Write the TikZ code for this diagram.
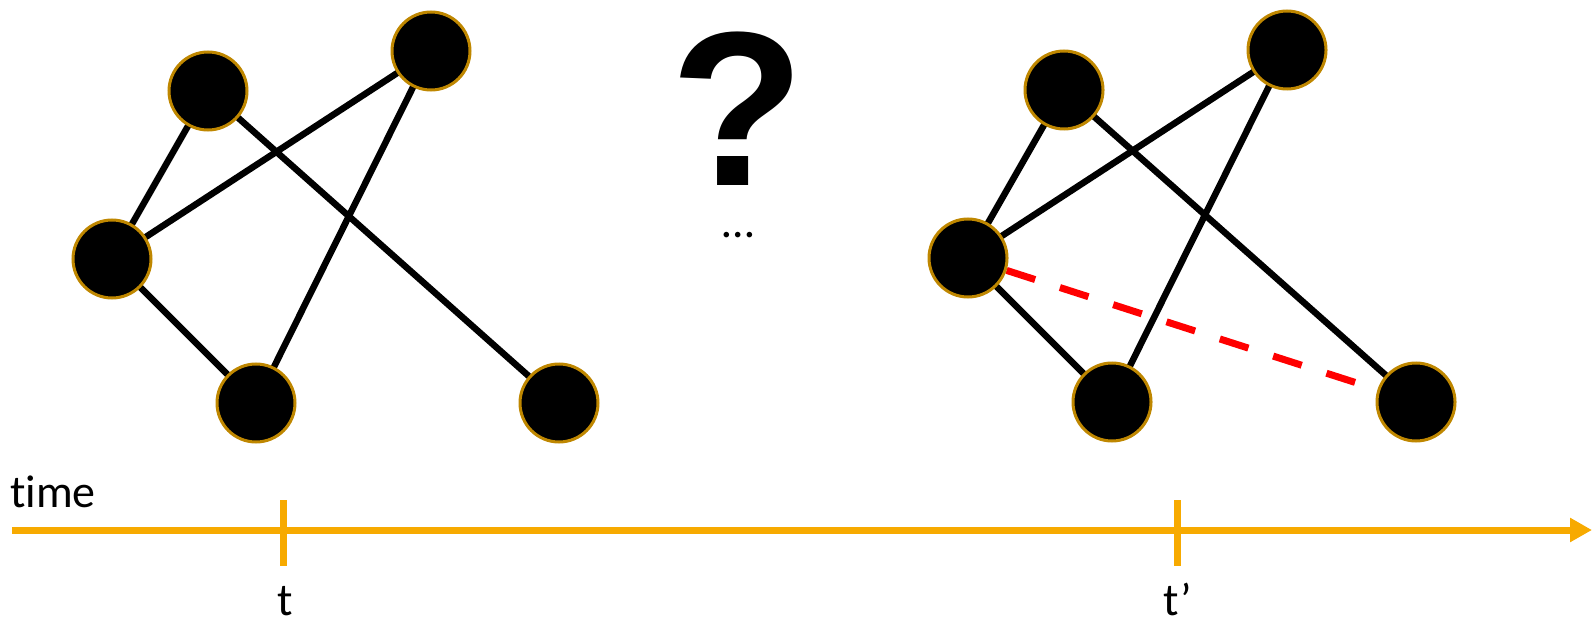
\documentclass[tikz,border=0pt]{standalone}
\usepackage{fontspec}
\setmainfont{Carlito}[Ligatures={NoCommon}]
\newfontfamily\qfont{Liberation Sans}
\usetikzlibrary{arrows.meta,backgrounds}
\definecolor{ringgold}{RGB}{191,135,0}
\definecolor{axisgold}{RGB}{247,170,0}
\tikzset{
  vertex/.style={circle, fill=black, draw=ringgold, line width=3bp,
    minimum size=78bp, inner sep=0pt},
  edge/.style={line width=6.5bp, black},
  newedge/.style={line width=7bp, red, dash pattern=on 30bp off 26bp},
  axis/.style={line width=7bp, axisgold},
  tick/.style={line width=7bp, axisgold},
  label/.style={font=\fontsize{46bp}{50bp}\selectfont, inner sep=0pt, anchor=base},
}
\begin{document}
\begin{tikzpicture}[x=1bp, y=-1bp]
\useasboundingbox (0,0) rectangle (1592,619);

% graph at time t
\node[vertex] (A) at (208,91) {};
\node[vertex] (B) at (431,51) {};
\node[vertex] (C) at (112,259) {};
\node[vertex] (D) at (256,403) {};
\node[vertex] (E) at (559,403) {};

% graph at time t'
\begin{scope}[xshift=856bp]
\node[vertex] (A2) at (208,90) {};
\node[vertex] (B2) at (431,50) {};
\node[vertex] (C2) at (112,258) {};
\node[vertex] (D2) at (256,402) {};
\node[vertex] (E2) at (560,402) {};
\end{scope}

\begin{pgfonlayer}{background}
  \draw[edge] (A.center) -- (C.center);
  \draw[edge] (B.center) -- (C.center);
  \draw[edge] (B.center) -- (D.center);
  \draw[edge] (A.center) -- (E.center);
  \draw[edge] (C.center) -- (D.center);

  \draw[edge] (A2.center) -- (C2.center);
  \draw[edge] (B2.center) -- (C2.center);
  \draw[edge] (B2.center) -- (D2.center);
  \draw[edge] (A2.center) -- (E2.center);
  \draw[edge] (C2.center) -- (D2.center);
  \draw[newedge] (C2) -- (E2.center);
\end{pgfonlayer}

% unknown evolution in between
\node[inner sep=0pt, anchor=base, font=\qfont\bfseries\fontsize{220bp}{230bp}\selectfont] (q) at (738,186) {?};
\node[label] (dots) at (738,238) {…};

% time axis
\coordinate (ax0) at (12,530);
\coordinate (ax1) at (1592,530);
\draw[axis, -{Triangle[length=22bp, width=23bp]}] (ax0) -- (ax1);
\coordinate (t1top) at (283,500);
\coordinate (t1bot) at (283,566);
\coordinate (t2top) at (1177,500);
\coordinate (t2bot) at (1177,566);
\draw[tick] (t1top) -- (t1bot);
\draw[tick] (t2top) -- (t2bot);

\node[label, anchor=base west] (time) at (10,507) {time};
\node[label] (tl) at (285,615) {t};
\node[label] (tpl) at (1178,615) {t’};
\end{tikzpicture}
\end{document}
